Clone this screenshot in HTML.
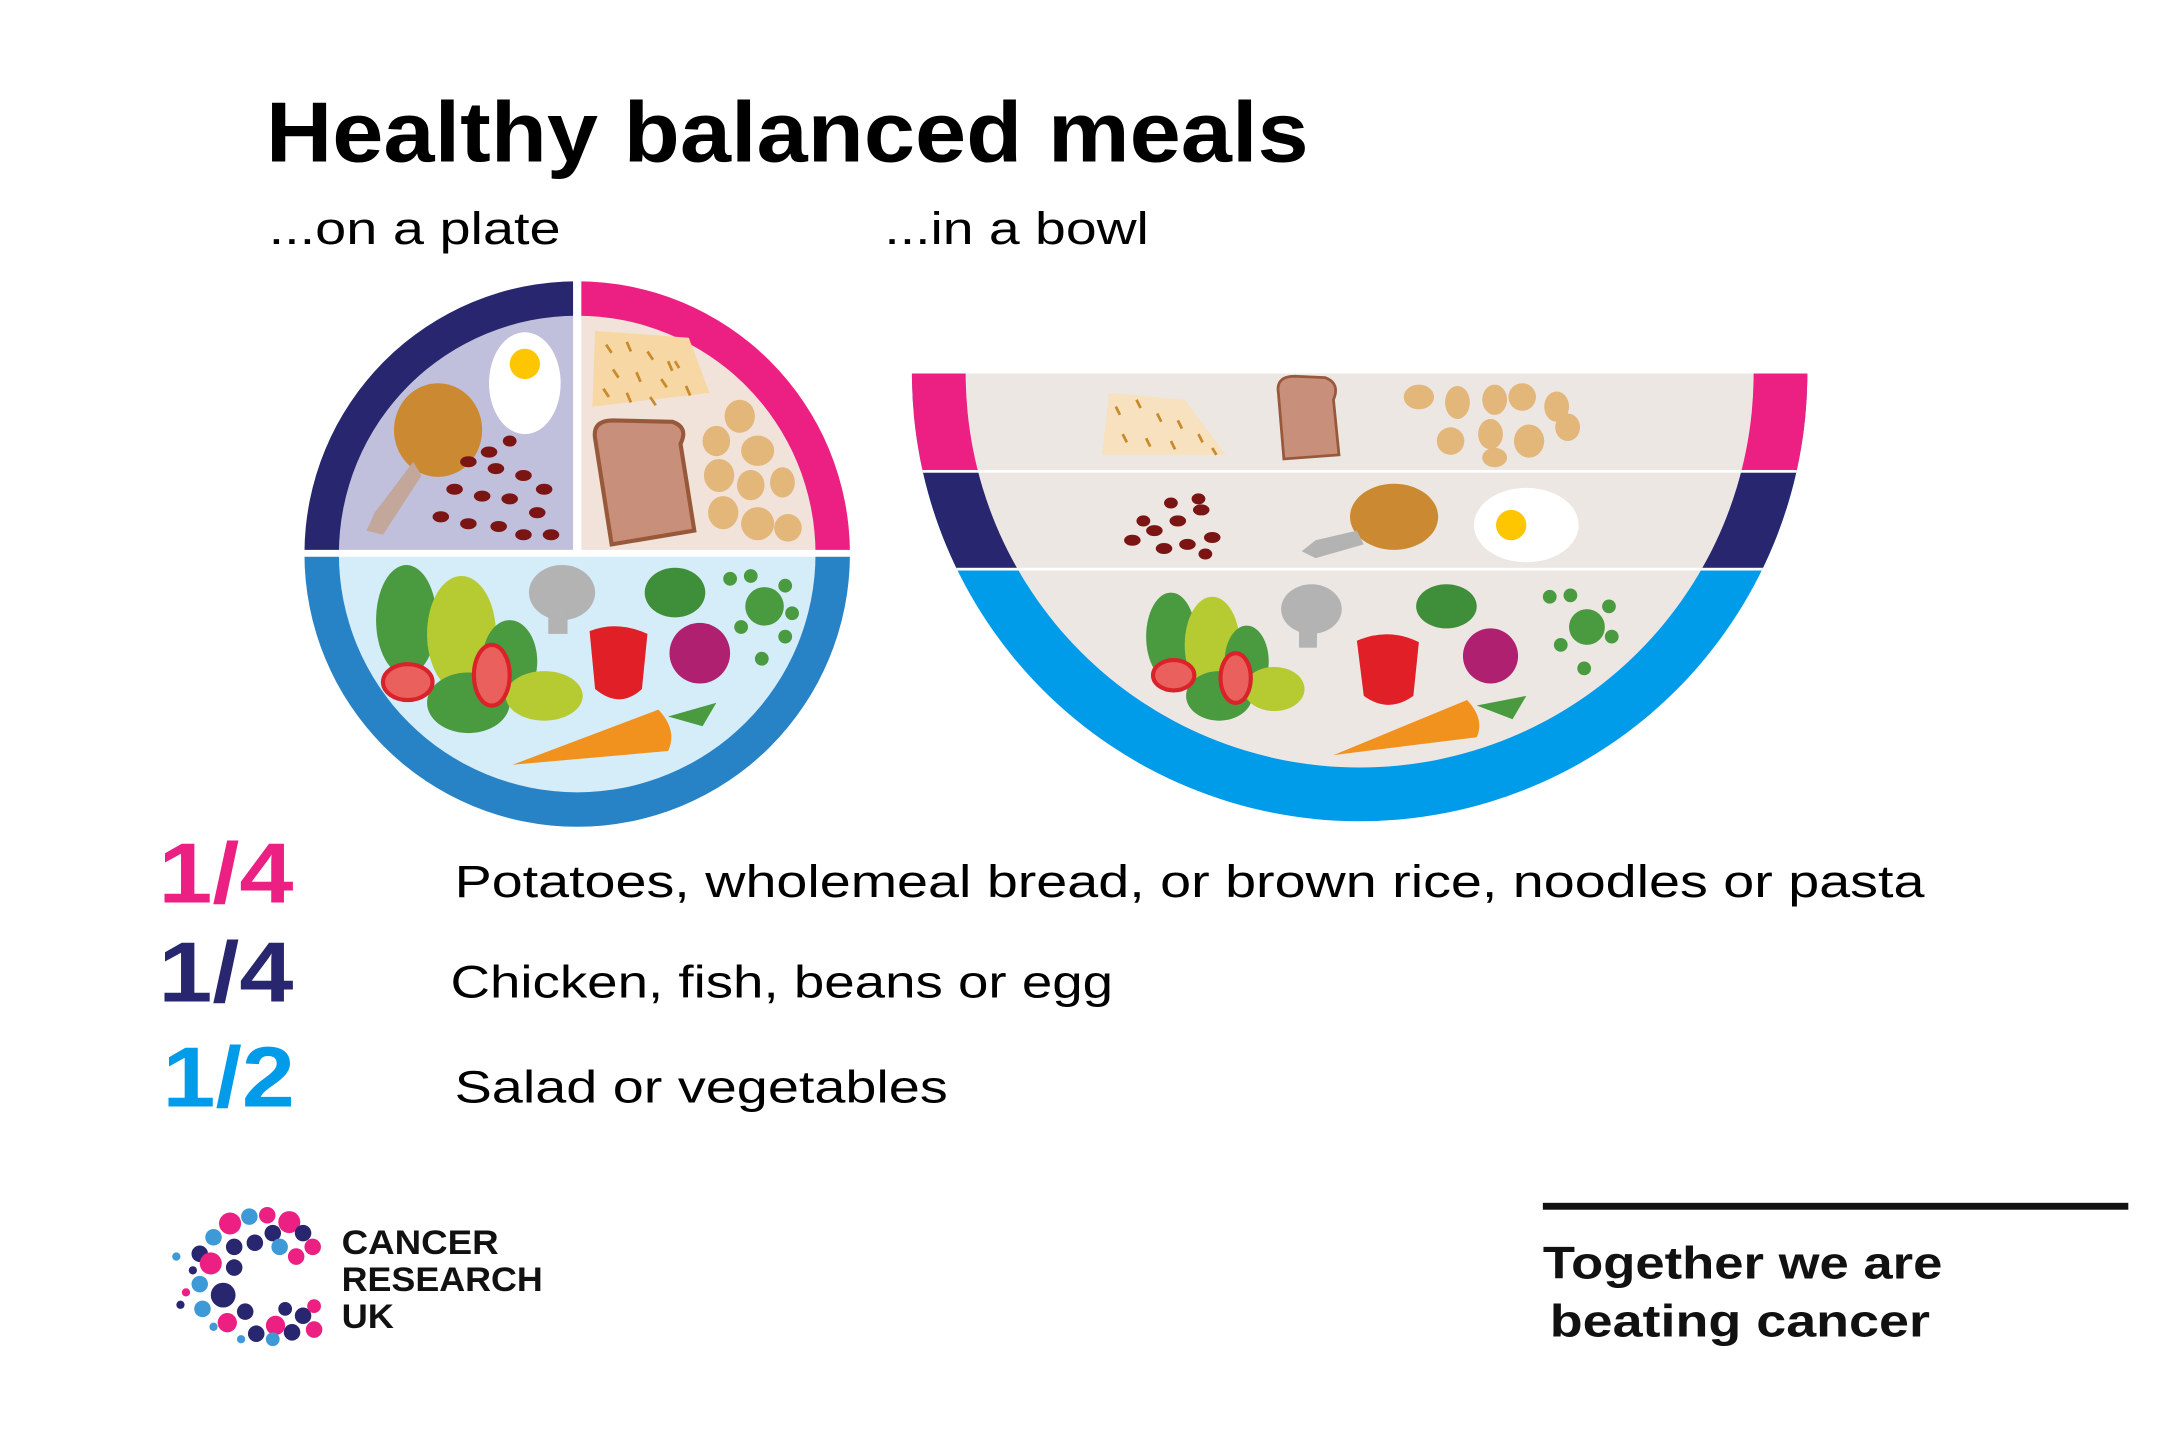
<!DOCTYPE html>
<html><head><meta charset="utf-8"><style>
html,body{margin:0;padding:0;background:#fff}
svg{display:block}
text{font-family:"Liberation Sans",sans-serif}
</style></head><body>
<svg width="2160" height="1440" viewBox="0 0 1568 1045" xmlns="http://www.w3.org/2000/svg">
<rect width="1568" height="1045" fill="#fff"/>
<text x="193" y="117" font-size="62" font-weight="bold" textLength="757" lengthAdjust="spacingAndGlyphs">Healthy balanced meals</text>
<text x="195" y="177" font-size="33" textLength="212" lengthAdjust="spacingAndGlyphs">...on a plate</text>
<text x="642" y="177" font-size="33" textLength="192" lengthAdjust="spacingAndGlyphs">...in a bowl</text>

<defs>
<clipPath id="ptl"><rect x="200" y="190" width="219" height="211"/></clipPath>
<clipPath id="ptr"><rect x="419" y="190" width="220" height="211"/></clipPath>
<clipPath id="pb"><rect x="200" y="401" width="440" height="210"/></clipPath>
<clipPath id="bowl"><rect x="640" y="271" width="700" height="340"/></clipPath>
<clipPath id="bowlc"><circle cx="987" cy="271" r="325"/></clipPath>
</defs>
<g clip-path="url(#ptl)"><circle cx="419" cy="402" r="198" fill="#27266e"/><circle cx="419" cy="402" r="173" fill="#c0bfdc"/></g>
<g clip-path="url(#ptr)"><circle cx="419" cy="402" r="198" fill="#ec1f82"/><circle cx="419" cy="402" r="173" fill="#f1e2da"/></g>
<g clip-path="url(#pb)"><circle cx="419" cy="402" r="198" fill="#2883c6"/><circle cx="419" cy="402" r="173" fill="#d5ecf9"/></g>
<rect x="416" y="200" width="6" height="202" fill="#fff"/>
<rect x="218" y="399" width="402" height="5" fill="#fff"/>
<ellipse cx="381" cy="278" rx="26" ry="37" fill="#fff"/><circle cx="381" cy="264" r="11" fill="#fdc600"/>
<ellipse cx="318" cy="312" rx="32" ry="34" fill="#cb8a32"/><path d="M300 335 L272 372 L266 385 L278 388 L306 345Z" fill="#c2a79a"/>
<g fill="#7a1514"><ellipse cx="340" cy="335" rx="6" ry="4"/><ellipse cx="360" cy="340" rx="6" ry="4"/><ellipse cx="380" cy="345" rx="6" ry="4"/><ellipse cx="395" cy="355" rx="6" ry="4"/><ellipse cx="330" cy="355" rx="6" ry="4"/><ellipse cx="350" cy="360" rx="6" ry="4"/><ellipse cx="370" cy="362" rx="6" ry="4"/><ellipse cx="390" cy="372" rx="6" ry="4"/><ellipse cx="320" cy="375" rx="6" ry="4"/><ellipse cx="340" cy="380" rx="6" ry="4"/><ellipse cx="362" cy="382" rx="6" ry="4"/><ellipse cx="400" cy="388" rx="6" ry="4"/><ellipse cx="380" cy="388" rx="6" ry="4"/><ellipse cx="355" cy="328" rx="6" ry="4"/><ellipse cx="370" cy="320" rx="5" ry="4"/></g>
<path d="M432 240 L500 245 L515 285 L430 295Z" fill="#f7d8a4"/>
<g stroke="#c98a2c" stroke-width="2"><path d="M440 250l4 6M455 248l3 7M470 255l4 6M485 262l3 7M445 268l4 6M462 270l3 7M480 275l4 6M498 280l3 7M438 282l4 6M455 285l3 7M472 288l4 6M490 262l3 5"/></g>
<path d="M432 318 Q430 305 445 305 L488 306 Q500 310 494 322 L504 385 L444 395Z" fill="#c8907a" stroke="#98593b" stroke-width="3"/>
<g fill="#e3b679"><ellipse cx="537" cy="302" rx="11" ry="12"/><ellipse cx="520" cy="320" rx="10" ry="11"/><ellipse cx="550" cy="327" rx="12" ry="11"/><ellipse cx="522" cy="345" rx="11" ry="12"/><ellipse cx="545" cy="352" rx="10" ry="11"/><ellipse cx="568" cy="350" rx="9" ry="11"/><ellipse cx="525" cy="372" rx="11" ry="12"/><ellipse cx="550" cy="380" rx="12" ry="12"/><ellipse cx="572" cy="383" rx="10" ry="10"/></g>
<ellipse cx="295" cy="450" rx="22" ry="40" fill="#4a9a40"/><ellipse cx="335" cy="460" rx="25" ry="42" fill="#b6ca32"/><ellipse cx="370" cy="480" rx="20" ry="30" fill="#4a9a40"/>
<ellipse cx="340" cy="510" rx="30" ry="22" fill="#4a9a40"/><ellipse cx="395" cy="505" rx="28" ry="18" fill="#b6ca32"/>
<ellipse cx="296" cy="495" rx="18" ry="13" fill="#e9605c" stroke="#d9222a" stroke-width="3"/><ellipse cx="357" cy="490" rx="13" ry="22" fill="#e9605c" stroke="#d9222a" stroke-width="3"/>
<ellipse cx="408" cy="430" rx="24" ry="20" fill="#b3b3b3"/><rect x="398" y="440" width="14" height="20" fill="#b3b3b3"/>
<path d="M428 458 Q448 450 470 460 L466 500 Q450 515 432 500Z" fill="#e01f26"/>
<ellipse cx="508" cy="474" rx="22" ry="22" fill="#b02070"/><ellipse cx="490" cy="430" rx="22" ry="18" fill="#3f8f3a"/>
<g fill="#4a9a40"><circle cx="555" cy="440" r="14"/><circle cx="530" cy="420" r="5"/><circle cx="545" cy="418" r="5"/><circle cx="570" cy="425" r="5"/><circle cx="575" cy="445" r="5"/><circle cx="570" cy="462" r="5"/><circle cx="553" cy="478" r="5"/><circle cx="538" cy="455" r="5"/></g>
<path d="M372 555 L478 515 Q492 530 485 545Z" fill="#f1921f"/><path d="M485 520 L520 510 L510 527Z" fill="#4a9a40"/>

<g clip-path="url(#bowl)"><g clip-path="url(#bowlc)">
<rect x="640" y="271" width="700" height="340" fill="#009be9"/>
<rect x="640" y="271" width="700" height="71" fill="#ec1f82"/>
<rect x="640" y="342" width="700" height="71" fill="#27266e"/>
<circle cx="987" cy="271" r="286" fill="#ede7e3"/>
<rect x="600" y="341" width="800" height="2" fill="#fff"/>
<rect x="600" y="412" width="800" height="2" fill="#fff"/>
</g></g>
<path d="M805 285 L860 290 L890 330 L800 330Z" fill="#f7e1bf"/>
<g stroke="#c98a2c" stroke-width="2"><path d="M810 295l3 6M825 290l3 6M840 300l3 6M855 305l3 6M870 315l3 6M815 315l3 6M832 318l3 6M850 320l3 6M880 325l3 5"/></g>
<path d="M928 285 Q926 273 940 273 L962 274 Q973 278 968 290 L972 330 L932 333Z" fill="#c8907a" stroke="#98593b" stroke-width="2"/>
<g fill="#e3b679"><ellipse cx="1030" cy="288" rx="11" ry="9"/><ellipse cx="1058" cy="292" rx="9" ry="12"/><ellipse cx="1085" cy="290" rx="9" ry="11"/><ellipse cx="1105" cy="288" rx="10" ry="10"/><ellipse cx="1130" cy="295" rx="9" ry="11"/><ellipse cx="1053" cy="320" rx="10" ry="10"/><ellipse cx="1082" cy="315" rx="9" ry="11"/><ellipse cx="1110" cy="320" rx="11" ry="12"/><ellipse cx="1138" cy="310" rx="9" ry="10"/><ellipse cx="1085" cy="332" rx="9" ry="7"/></g>
<g fill="#7a1514"><ellipse cx="822" cy="392" rx="6" ry="4"/><ellipse cx="838" cy="385" rx="6" ry="4"/><ellipse cx="855" cy="378" rx="6" ry="4"/><ellipse cx="872" cy="370" rx="6" ry="4"/><ellipse cx="880" cy="390" rx="6" ry="4"/><ellipse cx="845" cy="398" rx="6" ry="4"/><ellipse cx="862" cy="395" rx="6" ry="4"/><ellipse cx="870" cy="362" rx="5" ry="4"/><ellipse cx="830" cy="378" rx="5" ry="4"/><ellipse cx="850" cy="365" rx="5" ry="4"/><ellipse cx="875" cy="402" rx="5" ry="4"/></g>
<ellipse cx="1012" cy="375" rx="32" ry="24" fill="#cb8a32"/><path d="M985 385 L955 392 L945 400 L955 405 L990 395Z" fill="#b3b3b3"/>
<ellipse cx="1108" cy="381" rx="38" ry="27" fill="#fff"/><circle cx="1097" cy="381" r="11" fill="#fdc600"/>
<ellipse cx="850" cy="462" rx="18" ry="32" fill="#4a9a40"/><ellipse cx="880" cy="468" rx="20" ry="35" fill="#b6ca32"/><ellipse cx="905" cy="480" rx="16" ry="26" fill="#4a9a40"/>
<ellipse cx="885" cy="505" rx="24" ry="18" fill="#4a9a40"/><ellipse cx="925" cy="500" rx="22" ry="16" fill="#b6ca32"/>
<ellipse cx="852" cy="490" rx="15" ry="11" fill="#e9605c" stroke="#d9222a" stroke-width="3"/><ellipse cx="897" cy="492" rx="11" ry="18" fill="#e9605c" stroke="#d9222a" stroke-width="3"/>
<ellipse cx="952" cy="442" rx="22" ry="18" fill="#b3b3b3"/><rect x="943" y="450" width="13" height="20" fill="#b3b3b3"/>
<path d="M985 465 Q1008 455 1030 466 L1026 505 Q1008 518 990 505Z" fill="#e01f26"/>
<ellipse cx="1082" cy="476" rx="20" ry="20" fill="#b02070"/><ellipse cx="1050" cy="440" rx="22" ry="16" fill="#3f8f3a"/>
<g fill="#4a9a40"><circle cx="1152" cy="455" r="13"/><circle cx="1125" cy="433" r="5"/><circle cx="1140" cy="432" r="5"/><circle cx="1168" cy="440" r="5"/><circle cx="1170" cy="462" r="5"/><circle cx="1150" cy="485" r="5"/><circle cx="1133" cy="468" r="5"/></g>
<path d="M968 548 L1065 508 Q1078 522 1072 535Z" fill="#f1921f"/><path d="M1072 512 L1108 505 L1098 522Z" fill="#4a9a40"/>

<text x="115" y="655" font-size="62" font-weight="bold" fill="#ec1f82" textLength="98" lengthAdjust="spacingAndGlyphs">1/4</text>
<text x="115" y="727" font-size="62" font-weight="bold" fill="#27266e" textLength="98" lengthAdjust="spacingAndGlyphs">1/4</text>
<text x="118" y="803" font-size="62" font-weight="bold" fill="#009be9" textLength="96" lengthAdjust="spacingAndGlyphs">1/2</text>
<text x="330" y="651" font-size="33" textLength="1067" lengthAdjust="spacingAndGlyphs">Potatoes, wholemeal bread, or brown rice, noodles or pasta</text>
<text x="327" y="724" font-size="33" textLength="481" lengthAdjust="spacingAndGlyphs">Chicken, fish, beans or egg</text>
<text x="330" y="800" font-size="33" textLength="358" lengthAdjust="spacingAndGlyphs">Salad or vegetables</text>

<g>
<circle cx="167" cy="888" r="8" fill="#ec1f82"/><circle cx="181" cy="883" r="6" fill="#3e9ad6"/><circle cx="194" cy="882" r="6" fill="#ec1f82"/><circle cx="210" cy="887" r="8" fill="#ec1f82"/><circle cx="220" cy="895" r="6" fill="#27266e"/><circle cx="227" cy="905" r="6" fill="#ec1f82"/>
<circle cx="155" cy="898" r="6" fill="#3e9ad6"/><circle cx="170" cy="905" r="6" fill="#27266e"/><circle cx="185" cy="902" r="6" fill="#27266e"/><circle cx="198" cy="895" r="6" fill="#27266e"/><circle cx="203" cy="905" r="6" fill="#3e9ad6"/><circle cx="215" cy="912" r="6" fill="#ec1f82"/>
<circle cx="145" cy="910" r="6" fill="#27266e"/><circle cx="140" cy="922" r="3" fill="#27266e"/><circle cx="153" cy="917" r="8" fill="#ec1f82"/><circle cx="170" cy="920" r="6" fill="#27266e"/><circle cx="128" cy="912" r="3" fill="#3e9ad6"/><circle cx="135" cy="938" r="3" fill="#ec1f82"/><circle cx="131" cy="947" r="3" fill="#27266e"/>
<circle cx="145" cy="932" r="6" fill="#3e9ad6"/><circle cx="162" cy="940" r="9" fill="#27266e"/><circle cx="147" cy="950" r="6" fill="#3e9ad6"/><circle cx="155" cy="963" r="3" fill="#3e9ad6"/><circle cx="165" cy="960" r="7" fill="#ec1f82"/><circle cx="178" cy="952" r="6" fill="#27266e"/>
<circle cx="186" cy="968" r="6" fill="#27266e"/><circle cx="200" cy="962" r="7" fill="#ec1f82"/><circle cx="198" cy="972" r="5" fill="#3e9ad6"/><circle cx="212" cy="967" r="6" fill="#27266e"/><circle cx="220" cy="955" r="6" fill="#27266e"/><circle cx="228" cy="965" r="6" fill="#ec1f82"/><circle cx="207" cy="950" r="5" fill="#27266e"/><circle cx="228" cy="948" r="5" fill="#ec1f82"/><circle cx="175" cy="972" r="3" fill="#3e9ad6"/>
</g>
<text x="248" y="910" font-size="25" font-weight="bold" fill="#111" textLength="114" lengthAdjust="spacingAndGlyphs">CANCER</text>
<text x="248" y="937" font-size="25" font-weight="bold" fill="#111" textLength="146" lengthAdjust="spacingAndGlyphs">RESEARCH</text>
<text x="248" y="964" font-size="25" font-weight="bold" fill="#111" textLength="38" lengthAdjust="spacingAndGlyphs">UK</text>

<rect x="1120" y="873" width="425" height="5" fill="#111"/>
<text x="1120" y="928" font-size="33" font-weight="bold" fill="#111" textLength="290" lengthAdjust="spacingAndGlyphs">Together we are</text>
<text x="1125" y="970" font-size="33" font-weight="bold" fill="#111" textLength="276" lengthAdjust="spacingAndGlyphs">beating cancer</text>
</svg>
</body></html>
